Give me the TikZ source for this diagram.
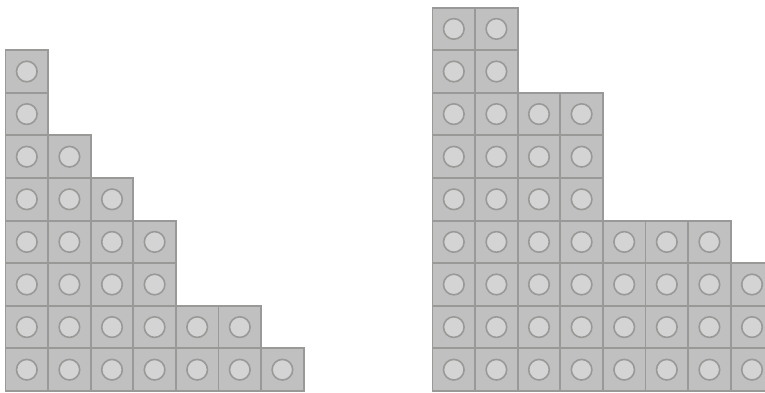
\documentclass[tikz,border=0pt]{standalone}
\definecolor{edgegray}{HTML}{999997}
\definecolor{cellgray}{HTML}{C0C0C0}
\definecolor{dotgray}{HTML}{D4D4D4}
\tikzset{
  cell/.style={fill=cellgray,
    minimum size=42.6pt, inner sep=0pt, outer sep=0pt, anchor=south west,
    path picture={\draw[draw=edgegray, fill=dotgray, line width=1.6pt]
      (path picture bounding box.center) circle (10.3pt);}},
  cellborder/.style={draw=edgegray, line width=1.9pt}
}
\begin{document}
\begin{tikzpicture}[x=1pt,y=1pt]
\useasboundingbox (0,0) rectangle (765,-392);
% left diagram
\foreach \h [count=\c] in {8,6,5,4,2,2,1} {
  \foreach \j in {1,...,\h} {
    \node[cell] (L-\c-\j) at ({5.5+(\c-1)*42.6}, {-391+(\j-1)*42.6}) {};
  }
}
\foreach \h [count=\c] in {8,6,5,4,2,2,1} {
  \foreach \j in {1,...,\h} {
    \draw[cellborder] (L-\c-\j.south west) rectangle (L-\c-\j.north east);
  }
}
% right diagram
\foreach \h [count=\c] in {9,9,7,7,4,4,4,3} {
  \foreach \j in {1,...,\h} {
    \node[cell] (R-\c-\j) at ({432.5+(\c-1)*42.6}, {-391+(\j-1)*42.6}) {};
  }
}
\foreach \h [count=\c] in {9,9,7,7,4,4,4,3} {
  \foreach \j in {1,...,\h} {
    \draw[cellborder] (R-\c-\j.south west) rectangle (R-\c-\j.north east);
  }
}
\end{tikzpicture}
\end{document}
